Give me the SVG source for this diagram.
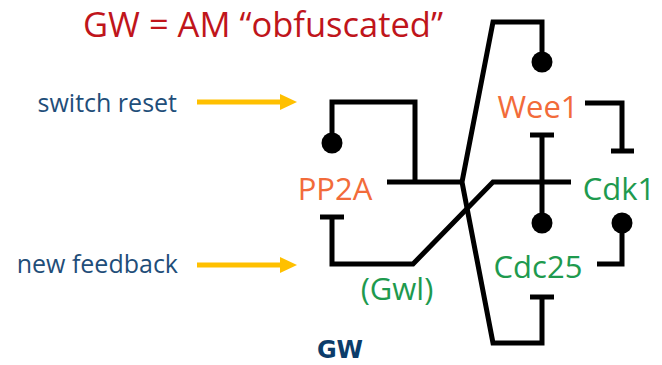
<svg xmlns="http://www.w3.org/2000/svg" width="662" height="365" viewBox="0 0 662 365">
<style>
.ln{fill:none;stroke:#000;stroke-width:5;stroke-linejoin:miter;stroke-linecap:butt}
.dot{fill:#000}
.lbl{font-family:"Open Sans","Noto Sans",sans-serif;font-size:31px;text-anchor:middle}
.or{fill:#F26B3A}
.gr{fill:#1E9A4E}
.side{font-family:"Open Sans","Noto Sans",sans-serif;font-size:25px;fill:#1F4E79}
.arr{stroke:#FFC000;stroke-width:5;fill:none}
</style>
<defs>
<marker id="ah" markerWidth="4" markerHeight="4" refX="0" refY="2" orient="auto" markerUnits="strokeWidth" viewBox="0 0 4 4"><path d="M0,0.4 L3.4,2 L0,3.6 Z" fill="#FFC000"/></marker>
</defs>
<rect width="662" height="365" fill="#fff"/>
<text x="263" y="37" font-family="'Open Sans','Noto Sans',sans-serif" font-size="34.5" fill="#C0151B" text-anchor="middle">GW = AM “obfuscated”</text>
<g id="switch-reset">
<text class="side" x="177" y="112" text-anchor="end">switch reset</text>
<line class="arr" x1="197" y1="102" x2="280" y2="102" marker-end="url(#ah)"/>
</g>
<g id="new-feedback">
<text class="side" x="178" y="273" text-anchor="end">new feedback</text>
<line class="arr" x1="197" y1="265" x2="280" y2="265" marker-end="url(#ah)"/>
</g>
<g id="connectors">
<path class="ln" d="M542,62 V22 H493 L462,182 L493,343 H542 V297"/>
<line class="ln" x1="530" y1="297" x2="554" y2="297"/>
<path class="ln" d="M387,182 H462"/>
<path class="ln" d="M415,182 V102 H332 V143"/>
<circle class="dot" cx="332" cy="143" r="10.5"/>
<circle class="dot" cx="542" cy="62" r="10.5"/>
<path class="ln" d="M585,103 H622 V151"/>
<line class="ln" x1="611" y1="151" x2="634" y2="151"/>
<path class="ln" d="M542,135 V223"/>
<line class="ln" x1="530" y1="135" x2="554" y2="135"/>
<circle class="dot" cx="542" cy="223" r="10.5"/>
<path class="ln" d="M571,182 H493 L413,264 H332 V217"/>
<line class="ln" x1="320" y1="217" x2="344" y2="217"/>
<path class="ln" d="M597,264 H622 V223"/>
<circle class="dot" cx="622" cy="223" r="10.5"/>
</g>
<g id="PP2A"><text class="lbl or" x="335" y="200">PP2A</text></g>
<g id="Wee1"><text class="lbl or" x="538" y="118">Wee1</text></g>
<g id="Cdk1"><text class="lbl gr" x="619" y="200">Cdk1</text></g>
<g id="Cdc25"><text class="lbl gr" x="538" y="278">Cdc25</text></g>
<g id="Gwl"><text class="lbl gr" x="397" y="300">(Gwl)</text></g>
<g id="GW"><text x="340" y="358" font-family="'DejaVu Sans',sans-serif" font-weight="bold" font-size="24" fill="#0B3C6A" text-anchor="middle">GW</text></g>
</svg>
